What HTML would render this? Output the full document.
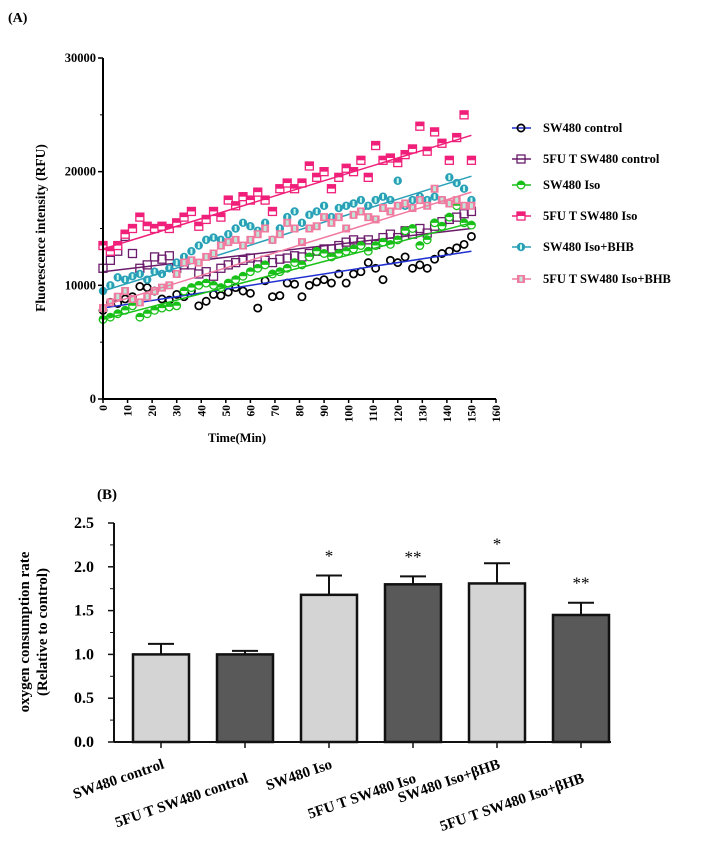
<!DOCTYPE html>
<html><head><meta charset="utf-8"><style>
body{margin:0;background:#fff;width:718px;height:850px;overflow:hidden}
svg{font-family:"Liberation Serif",serif;font-weight:bold}
</style></head><body>
<svg id="s" width="718" height="850">
<text x="8" y="22" font-size="14">(A)</text>
<text x="97" y="499" font-size="15">(B)</text>
<g id="top"></g>
<g id="bot"></g>
</svg>
<script>
const NS="http://www.w3.org/2000/svg";
function mk(p,t,a){const e=document.createElementNS(NS,t);for(const k in a)e.setAttribute(k,a[k]);p.appendChild(e);return e;}
// ---------- Chart A data (t = 0..150 step 3) ----------
const timeStep=3;
const xTicks=[0,10,20,30,40,50,60,70,80,90,100,110,120,130,140,150,160];
const yTicks=[0,10000,20000,30000];
const seriesNames=["SW480 control","5FU T SW480 control","SW480 Iso","5FU T SW480 Iso","SW480 Iso+BHB","5FU T SW480 Iso+BHB"];
const swControl=[7800,8500,8400,8800,9000,9900,9800,9500,8800,8700,9200,9000,9500,8200,8600,9200,9100,9400,9800,9500,9300,8000,10400,9000,9100,10200,10100,9000,10000,10300,10500,10200,11000,10200,11000,11200,12000,11500,10500,12200,12000,12500,11500,11800,11500,12300,12800,13000,13300,13600,14300];
const fuControl=[11500,12200,13000,14300,12800,11500,11800,12500,12300,12600,11500,11800,11800,11000,11200,10800,11500,11800,12000,12200,12400,11800,12200,12000,12300,12400,12600,12500,12800,13000,13200,13200,13500,13800,14000,13800,14000,13600,14200,14500,14200,14800,14500,15000,14600,15200,15600,15800,16000,16300,16500];
const swIso=[7000,7200,7500,7800,8200,7200,7500,7800,8000,8100,8200,9500,9800,10000,10200,10000,9800,10200,10500,10800,11200,11500,11800,11000,11200,11500,12000,11800,12500,13000,12800,12500,12800,13000,13200,13500,13000,13500,13800,13600,14000,14800,15000,13500,14000,15500,15200,16000,17000,15500,15300];
const fuIso=[13500,13000,13500,14500,15000,16000,15200,15000,15200,15000,15500,16000,16500,15200,15800,16500,16000,17500,17000,17800,17500,18200,17500,16500,18500,19000,18500,19000,20500,19500,20000,18500,19500,20300,20000,21000,19500,22300,21000,21200,20800,21500,22000,24000,21800,23500,22500,21000,23000,25000,21000];
const swIsoBhb=[9500,10000,10700,10500,10800,11000,10500,11200,11000,11500,12000,12500,13000,13500,14000,14200,14000,14500,15000,15500,15200,14800,15500,14000,15000,16000,16500,15500,16200,16500,17000,16000,16800,17000,17200,17500,17000,17500,17800,17500,19200,17000,17500,17800,17500,17800,17500,19500,19000,18500,17500];
const fuIsoBhb=[8000,8500,9000,9500,8800,8500,9000,9500,9800,10000,11000,12000,12200,12000,12500,12800,13500,13800,14000,13500,14000,14500,15000,14000,14500,15500,15000,13800,15000,15200,16000,15500,16000,15000,16200,16500,16000,15800,16800,16500,17000,17200,16800,17500,17000,18500,17500,17200,17500,17000,17000];
const fitStart=[8000,11200,7000,13200,9500,8200];
const fitEnd=[13000,15000,15500,23200,19600,18200];
const seriesData=[swControl,fuControl,swIso,fuIso,swIsoBhb,fuIsoBhb];
const lineColors=["#1f2fd0","#6a1b6a","#19c019","#f0207a","#2aa0b8","#f07aa0"];
const markColors=["#000","#6a1b6a","#19c019","#f0207a","#2aa0b8","#f07aa0"];
const mType=["circle","square","halfcircle","halfsquare","filledcircle","filledsquare"];

const T=document.getElementById('top');
const ax={x0:103,x1:496,y0:399,y1:58,tmax:160,vmax:30000};
const X=t=>ax.x0+(ax.x1-ax.x0)*t/ax.tmax;
const Y=v=>ax.y0-(ax.y0-ax.y1)*v/ax.vmax;
function marker(g,k,cx,cy){
  const c=markColors[k];let e;
  if(mType[k]==="circle")e=mk(g,'circle',{cx,cy,r:3.6,fill:'none',stroke:c,'stroke-width':1.7});
  else if(mType[k]==="square")e=mk(g,'rect',{x:cx-4,y:cy-4,width:8,height:8,fill:'none',stroke:c,'stroke-width':1.3});
  else if(mType[k]==="halfcircle"){e=mk(g,'circle',{cx,cy,r:3.8,fill:'#fff',stroke:c,'stroke-width':1.3});mk(g,'path',{d:`M${cx-3.8} ${cy}A3.8 3.8 0 0 1 ${cx+3.8} ${cy}Z`,fill:c});}
  else if(mType[k]==="halfsquare"){e=mk(g,'rect',{x:cx-4,y:cy-4,width:8,height:8,fill:'#fff',stroke:c,'stroke-width':1.3});mk(g,'rect',{x:cx-4,y:cy-4,width:8,height:4,fill:c});}
  else if(mType[k]==="filledcircle"){e=mk(g,'circle',{cx,cy,r:4.2,fill:c});mk(g,'rect',{x:cx-1,y:cy-2.5,width:2,height:5,fill:'#cfe'});}
  else {e=mk(g,'rect',{x:cx-4,y:cy-4,width:8,height:8,fill:c});mk(g,'rect',{x:cx-1.5,y:cy-2.5,width:3,height:5,fill:'#bfe8d8'});}
  return e;
}
seriesData.forEach((arr,k)=>{
  const g=mk(T,'g',{});
  
  
  arr.forEach((v,i)=>{marker(g,k,X(i*timeStep),Y(v));});
  const ln=mk(g,'line',{x1:X(0),y1:Y(fitStart[k]),x2:X(150),y2:Y(fitEnd[k]),stroke:lineColors[k],'stroke-width':1.5});
  
  
});
const ya=mk(T,'line',{x1:ax.x0,y1:ax.y1,x2:ax.x0,y2:ax.y0,stroke:'#000','stroke-width':2});

const xa=mk(T,'line',{x1:ax.x0,y1:ax.y0,x2:ax.x1,y2:ax.y0,stroke:'#000','stroke-width':2});

yTicks.forEach(v=>{mk(T,'line',{x1:ax.x0-5,y1:Y(v),x2:ax.x0,y2:Y(v),stroke:'#000','stroke-width':1.5});
  const t=mk(T,'text',{x:ax.x0-7,y:Y(v)+4,'font-size':12.5,'text-anchor':'end'});t.textContent=v;
  });
for(let v=5000;v<30000;v+=10000)mk(T,'line',{x1:ax.x0-3,y1:Y(v),x2:ax.x0,y2:Y(v),stroke:'#000','stroke-width':1});
xTicks.forEach(v=>{mk(T,'line',{x1:X(v),y1:ax.y0,x2:X(v),y2:ax.y0+4,stroke:'#000','stroke-width':1.5});
  const t=mk(T,'text',{x:0,y:0,'font-size':11.5,'text-anchor':'end',transform:`translate(${X(v)+4},${ax.y0+6}) rotate(-90)`});t.textContent=v;
  });
let t=mk(T,'text',{x:237,y:442,'font-size':12.5,'text-anchor':'middle'});t.textContent="Time(Min)";

t=mk(T,'text',{x:0,y:0,'font-size':13.5,'text-anchor':'middle',transform:'translate(45,228) rotate(-90)'});t.textContent="Fluorescence intensity (RFU)";

const legY=[128,159,185,216,247,279];
seriesNames.forEach((n,k)=>{
  const g=mk(T,'g',{});
  
  mk(g,'line',{x1:512,y1:legY[k],x2:531,y2:legY[k],stroke:lineColors[k],'stroke-width':1.5});
  marker(g,k,521,legY[k]);
  const tx=mk(g,'text',{x:543,y:legY[k]+4,'font-size':12.5});tx.textContent=n;
});
// ---------- Chart B ----------
const barCats=["SW480 control","5FU T SW480 control","SW480 Iso","5FU T SW480 Iso","SW480 Iso+\u03b2HB","5FU T SW480 Iso+\u03b2HB"];
const barVals=[1.0,1.0,1.68,1.8,1.81,1.45];
const barErr=[0.12,0.04,0.22,0.09,0.23,0.14];
const barSig=["","","*","**","*","**"];
const barTicks=[0,0.5,1.0,1.5,2.0,2.5];
const barFill=["#d4d4d4","#595959","#d4d4d4","#595959","#d4d4d4","#595959"];
const B=document.getElementById('bot');
const by0=742,by1=523,bx0=114,bStep=84,bFirst=161,bw=56;
const BY=v=>by0-(by0-by1)*v/2.5;
barVals.forEach((v,i)=>{
  const cx=bFirst+i*bStep,top=BY(v+barErr[i]);
  const e=mk(B,'line',{x1:cx,y1:BY(v),x2:cx,y2:top,stroke:'#111','stroke-width':2});
  
  mk(B,'line',{x1:cx-13,y1:top,x2:cx+13,y2:top,stroke:'#111','stroke-width':2});
  const r=mk(B,'rect',{x:cx-bw/2,y:BY(v),width:bw,height:by0-BY(v),fill:barFill[i],stroke:'#111','stroke-width':2.5});
  
  if(barSig[i]){const s=mk(B,'text',{x:cx,y:top-14,'font-size':17,'font-weight':'normal','text-anchor':'middle'});s.textContent=barSig[i];
    }
  mk(B,'line',{x1:cx,y1:by0,x2:cx,y2:by0+6,stroke:'#111','stroke-width':1.5});
  const l=mk(B,'text',{x:0,y:0,'font-size':15,'text-anchor':'end',transform:`translate(${cx+4},${by0+26+(i%2)*14}) rotate(-19)`});l.textContent=barCats[i];
  
});
let a=mk(B,'line',{x1:bx0,y1:by1,x2:bx0,y2:by0,stroke:'#111','stroke-width':2});

a=mk(B,'line',{x1:bx0,y1:by0,x2:bFirst+5*bStep+bw/2+2,y2:by0,stroke:'#111','stroke-width':2});

barTicks.forEach(v=>{mk(B,'line',{x1:bx0-6,y1:BY(v),x2:bx0,y2:BY(v),stroke:'#111','stroke-width':1.5});
  if(v<2.5)mk(B,'line',{x1:bx0-4,y1:BY(v+0.25),x2:bx0,y2:BY(v+0.25),stroke:'#111','stroke-width':1});
  const q=mk(B,'text',{x:bx0-20,y:BY(v)+5,'font-size':16,'text-anchor':'end'});q.textContent=v.toFixed(1);
  });
t=mk(B,'text',{x:0,y:0,'font-size':15,'text-anchor':'middle',transform:'translate(29,632) rotate(-90)'});t.textContent="oxygen consumption rate";

t=mk(B,'text',{x:0,y:0,'font-size':15,'text-anchor':'middle',transform:'translate(47,632) rotate(-90)'});t.textContent="(Relative to control)";

</script>
</body></html>
